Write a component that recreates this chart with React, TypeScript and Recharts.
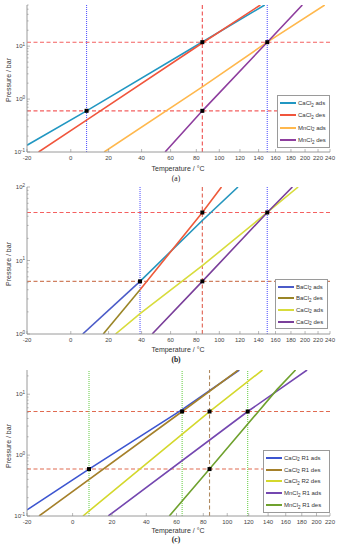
import React from 'react';
import { ComposedChart, Line, Scatter, XAxis, YAxis, ReferenceLine, Legend } from 'recharts';

const FONT = '"Liberation Sans", Arial, Helvetica, sans-serif';

// temperature tick labels (°C)
const tempTicksAB = [-20, 0, 20, 40, 60, 80, 100, 120, 140, 160, 180, 200, 220, 240];
const tempTicksC = [-20, 0, 20, 40, 60, 80, 100, 120, 140, 160, 180, 200, 220];

// pressure decades (bar)
const pTicksA = [0.1, 1, 10];
const pTicksB = [1, 10, 100];
const pTicksC = [0.1, 1, 10];

// (a) points as [°C, bar]
const caAdsA = [[-20, 0.134], [8, 0.6], [85, 12], [147, 60]];
const caDesA = [[-15, 0.1], [8, 0.4], [85, 11.5], [142, 60]];
const mnAdsA = [[17.5, 0.1], [85, 1.7], [150, 11.9], [231, 60]];
const mnDesA = [[56, 0.1], [85, 0.6], [150, 11.9], [196, 60]];
const dotsA = [[8, 0.6], [85, 11.9], [150, 11.9], [85, 0.6]];

// (b)
const baAdsB = [[6, 1], [39, 5.2]];
const baAdsHiB = [[39, 5.2], [85, 35], [118, 100]];
const baDesB = [[17, 1], [39, 4]];
const baDesHiB = [[39, 4], [85, 45], [102, 100]];
const caAdsB = [[24, 1], [39, 1.9], [85, 8.5], [150, 45], [190, 100]];
const caDesB = [[47, 1], [85, 5.2], [150, 45], [182, 100]];
const dotsB = [[39, 5.2], [85, 45], [150, 45], [85, 5.2]];

// (c)
const caR1AdsC = [[-20, 0.126], [8, 0.59], [64, 5.6], [111, 25]];
const caR1DesC = [[-15, 0.1], [64, 5.2], [110, 25]];
const caR2DesC = [[5, 0.1], [85, 5.2], [134, 25]];
const mnR1AdsC = [[18, 0.1], [119, 5.2], [187, 25]];
const mnR1DesC = [[55, 0.1], [85, 0.59], [150, 12], [172, 25]];
const dotsC = [[8, 0.59], [64, 5.2], [85, 5.2], [119, 5.2], [85, 0.59]];

// x axis is -1000/T(K), so the van't Hoff lines come out straight
const inv = (t: number) => -1000 / (t + 273.15);
const toC = (u: number) => Math.round(-1000 / u - 273.15);
const toPts = (arr: number[][]) => arr.map(([t, p]) => ({ u: inv(t), p }));

function logTicks(majors: number[], lo: number, hi: number) {
  const out: number[] = [...majors];
  for (let d = lo; d < hi * 0.999; d *= 10) {
    for (let k = 2; k < 10; k++) {
      const v = parseFloat((d * k).toPrecision(3));
      if (v <= hi * 1.0001) out.push(v);
    }
  }
  return Array.from(new Set(out)).sort((a, b) => a - b);
}

const YTick = (props: any) => {
  const { x, y, payload, side } = props;
  const lg = Math.log10(payload.value);
  const major = Math.abs(lg - Math.round(lg)) < 1e-6;
  const dir = side === 'left' ? 1 : -1;
  return (
    <g>
      <line x1={x} x2={x + dir * (major ? 3 : 1.6)} y1={y} y2={y} stroke="#8c8c8c" strokeWidth={0.6} />
      {side === 'left' && major && (
        <text x={x - 2} y={y} dy="0.35em" textAnchor="end" fontSize={6} fill="#444" fontFamily={FONT}>
          10<tspan dy={-2.5} fontSize={4.5}>{Math.round(lg)}</tspan>
        </text>
      )}
    </g>
  );
};

const XTick = (props: any) => {
  const { x, y, payload, side } = props;
  const dir = side === 'bottom' ? -1 : 1;
  return (
    <g>
      <line x1={x} x2={x} y1={y} y2={y + dir * 3} stroke="#8c8c8c" strokeWidth={0.6} />
      {side === 'bottom' && (
        <text x={x} y={y + 3.5} dy="0.71em" textAnchor="middle" fontSize={6} fill="#444" fontFamily={FONT}>
          {toC(payload.value)}
        </text>
      )}
    </g>
  );
};

const Square = (props: any) => (
  <rect x={props.cx - 2} y={props.cy - 2} width={4} height={4} fill="#000" />
);

const chem = (name: string) => {
  const m = name.match(/^(\w+Cl)2(.*)$/);
  if (!m) return name;
  return (
    <>
      {m[1]}
      <span style={{ fontSize: 4.5, position: 'relative', top: 1.5 }}>2</span>
      {m[2]}
    </>
  );
};

type Series = { name: string; pts: number[][]; color: string; legend?: boolean };
type Ref = { v: number; color: string; dash: string };

function Panel(p: {
  top: number; height: number; mTop: number; xAxisH: number;
  xTicks: number[]; yTicks: number[]; yDomain: [number, number];
  series: Series[]; dots: number[][]; hRefs: Ref[]; vRefs: Ref[];
  legend: { left: number; top: number; width: number; rowH: number };
  yTitleY: number; xTitleY: number; captionY: number; caption: string; bold: boolean;
}) {
  const xDomain = [inv(p.xTicks[0]), inv(p.xTicks[p.xTicks.length - 1])];
  const uTicks = p.xTicks.map(inv);
  const allY = logTicks(p.yTicks, p.yDomain[0], p.yDomain[1]);
  return (
    <>
      <div style={{ position: 'absolute', left: 0, top: p.top }}>
        <ComposedChart width={341} height={p.height} margin={{ top: p.mTop, right: 11, bottom: 0, left: 0 }}>
          <XAxis xAxisId={0} dataKey="u" type="number" domain={xDomain} ticks={uTicks} allowDataOverflow
            height={p.xAxisH} interval={0} tickSize={0} tickMargin={0} tickLine={false}
            axisLine={{ stroke: '#9a9a9a' }} tick={(t: any) => <XTick {...t} side="bottom" />} />
          <XAxis xAxisId="t" orientation="top" dataKey="u" type="number" domain={xDomain} ticks={uTicks} allowDataOverflow
            height={0} interval={0} tickSize={0} tickMargin={0} tickLine={false}
            axisLine={{ stroke: '#9a9a9a' }} tick={(t: any) => <XTick {...t} side="top" />} />
          <YAxis yAxisId={0} dataKey="p" type="number" scale="log" domain={p.yDomain} ticks={allY} allowDataOverflow
            width={27} interval={0} tickSize={0} tickMargin={0} tickLine={false}
            axisLine={{ stroke: '#9a9a9a' }} tick={(t: any) => <YTick {...t} side="left" />} />
          <YAxis yAxisId="r" orientation="right" type="number" scale="log" domain={p.yDomain} ticks={allY} allowDataOverflow
            width={0} interval={0} tickSize={0} tickMargin={0} tickLine={false}
            axisLine={{ stroke: '#9a9a9a' }} tick={(t: any) => <YTick {...t} side="right" />} />
          {p.hRefs.map((r, i) => (
            <ReferenceLine key={'h' + i} y={r.v} stroke={r.color} strokeDasharray={r.dash} strokeWidth={1.1} />
          ))}
          {p.vRefs.map((r, i) => (
            <ReferenceLine key={'v' + i} x={inv(r.v)} stroke={r.color} strokeDasharray={r.dash} strokeWidth={1.1} />
          ))}
          {p.series.map((s) => (
            <Line key={s.name} data={toPts(s.pts)} dataKey="p" name={s.name} type="linear" stroke={s.color}
              strokeWidth={1.6} dot={false} activeDot={false} isAnimationActive={false}
              legendType={s.legend === false ? 'none' : 'line'} />
          ))}
          <Scatter data={toPts(p.dots)} dataKey="p" shape={Square} isAnimationActive={false} legendType="none" />
          <Legend layout="vertical" align="center" verticalAlign="middle"
            wrapperStyle={{ left: p.legend.left, top: p.legend.top, width: p.legend.width }}
            content={() => (
              <div style={{ boxSizing: 'border-box', width: p.legend.width, border: '1px solid #9a9a9a', background: '#fff',
                padding: '1px 2px 1px 2px', fontFamily: FONT, fontSize: 6, color: '#333' }}>
                {p.series.filter((s) => s.legend !== false).map((s) => (
                  <div key={s.name} style={{ display: 'flex', alignItems: 'center', height: p.legend.rowH, whiteSpace: 'nowrap' }}>
                    <svg width={16} height={4} style={{ marginRight: 2, flex: 'none' }}>
                      <line x1={0} x2={16} y1={2} y2={2} stroke={s.color} strokeWidth={2} />
                    </svg>
                    <span>{chem(s.name)}</span>
                  </div>
                ))}
              </div>
            )} />
        </ComposedChart>
      </div>
      <div style={{ position: 'absolute', left: 8, top: p.yTitleY, transform: 'translate(-50%, -50%) rotate(-90deg)',
        whiteSpace: 'nowrap', fontSize: 7, color: '#333', fontFamily: FONT }}>Pressure / bar</div>
      <div style={{ position: 'absolute', left: 178, top: p.xTitleY, transform: 'translate(-50%, -50%)',
        whiteSpace: 'nowrap', fontSize: 7, color: '#333', fontFamily: FONT }}>Temperature / °C</div>
      <div style={{ position: 'absolute', left: 176, top: p.captionY, transform: 'translate(-50%, -50%)',
        whiteSpace: 'nowrap', fontSize: 7.5, color: '#222', fontFamily: '"Liberation Serif", "Times New Roman", serif',
        fontWeight: p.bold ? 'bold' : 'normal' }}>{p.caption}</div>
    </>
  );
}

const redDash = '4 2.5';
const dot = '1 1';

export default function App() {
  return (
    <div style={{ position: 'absolute', left: 0, top: 0, width: 341, height: 550, background: '#fff' }}>
      <Panel top={0} height={182} mTop={5} xAxisH={30} xTicks={tempTicksAB} yTicks={pTicksA} yDomain={[0.1, 60]}
        series={[
          { name: 'CaCl2 ads', pts: caAdsA, color: '#2197c2' },
          { name: 'CaCl2 des', pts: caDesA, color: '#f0553c' },
          { name: 'MnCl2 ads', pts: mnAdsA, color: '#ffb84d' },
          { name: 'MnCl2 des', pts: mnDesA, color: '#8e3e9e' },
        ]}
        dots={dotsA}
        hRefs={[{ v: 11.9, color: '#f46060', dash: redDash }, { v: 0.6, color: '#f46060', dash: redDash }]}
        vRefs={[{ v: 85, color: '#ee5050', dash: redDash }, { v: 8, color: '#5a5aff', dash: dot }, { v: 150, color: '#5a5aff', dash: dot }]}
        legend={{ left: 277, top: 95, width: 53, rowH: 12.3 }}
        yTitleY={80} xTitleY={168} captionY={178} caption="(a)" bold={false} />
      <Panel top={182} height={182} mTop={5} xAxisH={30} xTicks={tempTicksAB} yTicks={pTicksB} yDomain={[1, 100]}
        series={[
          { name: 'BaCl2 ads', pts: baAdsB, color: '#4b5bc8' },
          { name: 'BaCl2 des', pts: baDesB, color: '#9a8526' },
          { name: 'CaCl2 ads', pts: caAdsB, color: '#d8dc3c' },
          { name: 'CaCl2 des', pts: caDesB, color: '#7a3f9a' },
          { name: 'hi ads', pts: baAdsHiB, color: '#2596be', legend: false },
          { name: 'hi des', pts: baDesHiB, color: '#ee5a3a', legend: false },
        ]}
        dots={dotsB}
        hRefs={[{ v: 45, color: '#f46060', dash: redDash }, { v: 5.2, color: '#d08060', dash: redDash }]}
        vRefs={[{ v: 85, color: '#e06050', dash: redDash }, { v: 39, color: '#5a5aff', dash: dot }, { v: 150, color: '#5a5aff', dash: dot }]}
        legend={{ left: 275, top: 97, width: 53, rowH: 11.6 }}
        yTitleY={264} xTitleY={349} captionY={359} caption="(b)" bold />
      <Panel top={364} height={186} mTop={6} xAxisH={34} xTicks={tempTicksC} yTicks={pTicksC} yDomain={[0.1, 25]}
        series={[
          { name: 'CaCl2 R1 ads', pts: caR1AdsC, color: '#3c55d0' },
          { name: 'CaCl2 R1 des', pts: caR1DesC, color: '#a5802a' },
          { name: 'CaCl2 R2 des', pts: caR2DesC, color: '#d4d82c' },
          { name: 'MnCl2 R1 ads', pts: mnR1AdsC, color: '#7447b0' },
          { name: 'MnCl2 R1 des', pts: mnR1DesC, color: '#6fa12e' },
        ]}
        dots={dotsC}
        hRefs={[{ v: 5.2, color: '#e06a50', dash: redDash }, { v: 0.59, color: '#e06a50', dash: redDash }]}
        vRefs={[{ v: 85, color: '#b08a60', dash: redDash }, { v: 8, color: '#70d050', dash: dot }, { v: 64, color: '#70d050', dash: dot }, { v: 119, color: '#70d050', dash: dot }]}
        legend={{ left: 263, top: 86, width: 67, rowH: 11.8 }}
        yTitleY={446} xTitleY={530} captionY={539} caption="(c)" bold />
    </div>
  );
}
